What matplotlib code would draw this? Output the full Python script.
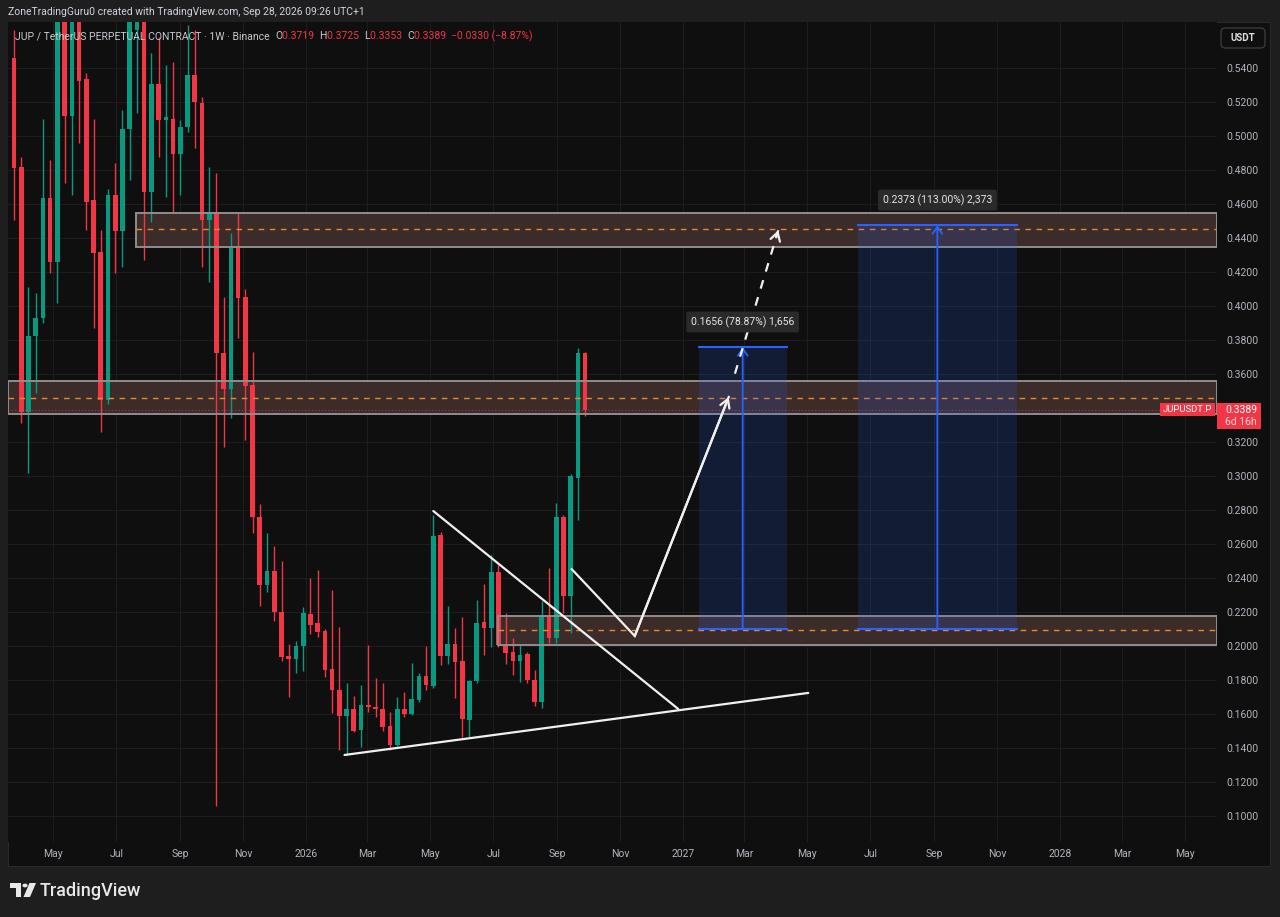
import numpy as np
import pandas as pd
import matplotlib
matplotlib.use('Agg')
import matplotlib.pyplot as plt
import matplotlib.dates as mdates
from matplotlib.patches import Rectangle, FancyBboxPatch, Polygon, Circle

# ---------------- data ----------------
start_week = '2025-03-24'
opens = [0.5455, 0.4818, 0.3376, 0.3822, 0.3926, 0.4632, 0.4255, 0.5850, 0.5118, 0.5800,
         0.5332, 0.4622, 0.4318, 0.3445, 0.4651, 0.4441, 0.5039, 0.5620, 0.5900, 0.4670,
         0.5302, 0.5092, 0.5101, 0.4892, 0.5053, 0.5357, 0.5194, 0.4504, 0.4547, 0.3724,
         0.3508, 0.4347, 0.4053, 0.3534, 0.2755, 0.2357, 0.2441, 0.2200, 0.1939, 0.1920,
         0.2000, 0.2185, 0.2132, 0.2088, 0.1860, 0.1740, 0.1587, 0.1630, 0.1504, 0.1652,
         0.1638, 0.1630, 0.1530, 0.1416, 0.1630, 0.1600, 0.1680, 0.1824, 0.1763, 0.2651,
         0.1939, 0.2010, 0.1910, 0.1560, 0.1792, 0.2140, 0.2102, 0.2432, 0.2004, 0.1965,
         0.1910, 0.1950, 0.1800, 0.1667, 0.2175, 0.2043, 0.2759, 0.2294, 0.2988, 0.3719]
highs = [0.5620, 0.4873, 0.4112, 0.4073, 0.5096, 0.4857, 0.5900, 0.5950, 0.5950, 0.5900,
         0.5367, 0.5096, 0.4445, 0.4685, 0.4838, 0.5151, 0.5900, 0.6000, 0.6000, 0.5485,
         0.5580, 0.5416, 0.5435, 0.5090, 0.5650, 0.5620, 0.5229, 0.4818, 0.4779, 0.4053,
         0.4426, 0.4543, 0.4100, 0.3729, 0.2834, 0.2661, 0.2588, 0.2498, 0.2008, 0.2029,
         0.2230, 0.2396, 0.2443, 0.2100, 0.2329, 0.2108, 0.1782, 0.1704, 0.1769, 0.2004,
         0.1812, 0.1779, 0.1612, 0.1700, 0.1729, 0.1900, 0.1840, 0.1996, 0.2769, 0.2670,
         0.2233, 0.2106, 0.2170, 0.1800, 0.2269, 0.2361, 0.2533, 0.2485, 0.2194, 0.2043,
         0.2004, 0.1960, 0.1857, 0.2265, 0.2455, 0.2838, 0.2770, 0.3010, 0.3749, 0.3725]
lows = [0.4504, 0.3308, 0.3014, 0.3485, 0.3900, 0.4190, 0.4014, 0.4720, 0.4650, 0.4955,
        0.4445, 0.3867, 0.3259, 0.3420, 0.4190, 0.4230, 0.4740, 0.5134, 0.4269, 0.4494,
        0.4876, 0.4641, 0.4553, 0.4651, 0.5020, 0.4926, 0.4229, 0.4141, 0.1057, 0.3170,
        0.3338, 0.3808, 0.3210, 0.2665, 0.2233, 0.2318, 0.2147, 0.1910, 0.1696, 0.1838,
        0.1853, 0.2069, 0.2053, 0.1818, 0.1602, 0.1387, 0.1357, 0.1490, 0.1406, 0.1612,
        0.1579, 0.1500, 0.1387, 0.1410, 0.1580, 0.1590, 0.1670, 0.1740, 0.1750, 0.1886,
        0.1892, 0.1690, 0.1465, 0.1463, 0.1780, 0.1945, 0.1994, 0.1990, 0.1892, 0.1828,
        0.1788, 0.1780, 0.1646, 0.1632, 0.2014, 0.2014, 0.2194, 0.2073, 0.2740, 0.3353]
closes = [0.4812, 0.3376, 0.3822, 0.3926, 0.4632, 0.4255, 0.5800, 0.5118, 0.5800, 0.5324,
          0.4612, 0.4312, 0.3445, 0.4651, 0.4441, 0.5039, 0.5750, 0.5900, 0.4670, 0.5302,
          0.5092, 0.5110, 0.4892, 0.5053, 0.5357, 0.5200, 0.4504, 0.4547, 0.3724, 0.3508,
          0.4347, 0.4047, 0.3528, 0.2755, 0.2357, 0.2441, 0.2200, 0.1932, 0.1920, 0.2000,
          0.2191, 0.2122, 0.2082, 0.1857, 0.1739, 0.1587, 0.1628, 0.1499, 0.1651, 0.1640,
          0.1626, 0.1524, 0.1416, 0.1630, 0.1598, 0.1685, 0.1824, 0.1770, 0.2645, 0.1939,
          0.2010, 0.1906, 0.1567, 0.1792, 0.2135, 0.2106, 0.2432, 0.2004, 0.1959, 0.1910,
          0.1945, 0.1798, 0.1667, 0.2175, 0.2043, 0.2759, 0.2294, 0.2998, 0.3719, 0.3389]

last_price = 0.3389
price_ticks = [0.10, 0.12, 0.14, 0.16, 0.18, 0.20, 0.22, 0.24, 0.26, 0.28, 0.30, 0.32,
               0.34, 0.36, 0.38, 0.40, 0.42, 0.44, 0.46, 0.48, 0.50, 0.52, 0.54]
time_ticks = ['2025-05-01', '2025-07-01', '2025-09-01', '2025-11-01', '2026-01-01',
              '2026-03-01', '2026-05-01', '2026-07-01', '2026-09-01', '2026-11-01',
              '2027-01-01', '2027-03-01', '2027-05-01', '2027-07-01', '2027-09-01',
              '2027-11-01', '2028-01-01', '2028-03-01', '2028-05-01']
time_labels = ['May', 'Jul', 'Sep', 'Nov', '2026', 'Mar', 'May', 'Jul', 'Sep', 'Nov',
               '2027', 'Mar', 'May', 'Jul', 'Sep', 'Nov', '2028', 'Mar', 'May']

# supply / demand zones (start None = chart edge)
zone_starts = ['2025-07-20', None, '2026-07-06']
zone_lows = [0.4347, 0.3363, 0.2004]
zone_highs = [0.4547, 0.3559, 0.2176]
zone_mids = [0.4449, 0.3459, 0.2090]

# trend lines
desc_dates = ['2026-05-04', '2026-12-27']
desc_prices = [0.2792, 0.1628]
supp_dates = ['2026-02-07', '2027-05-02']
supp_prices = [0.1357, 0.1722]
path_dates = ['2026-09-15', '2026-11-15', '2027-02-14']
path_prices = [0.2450, 0.2057, 0.3463]
dash_dates = ['2027-02-20', '2027-04-03']
dash_prices = [0.3600, 0.4444]

# price range measurements
box_starts = ['2027-01-16', '2027-06-19']
box_ends = ['2027-04-11', '2027-11-20']
box_lows = [0.2100, 0.2100]
box_highs = [0.3756, 0.4473]
box_labels = ['0.1656 (78.87%) 1,656', '0.2373 (113.00%) 2,373']

# ---------------- style ----------------
W, H = 1280, 917
UP = '#089981'
DN = '#f23645'
BG = '#0f0f0f'
OUT = '#1e1e1e'
GRID = '#1d1d1d'
TXT = '#b2b5be'
WHITE = '#f0f0f0'
plt.rcParams['font.family'] = ['Roboto', 'DejaVu Sans']

fig = plt.figure(figsize=(W / 100, H / 100), dpi=100)
fig.patch.set_facecolor(OUT)


def fx(px):
    return px / W


def fy(py):
    return 1 - py / H


# chart panel background
fig.add_artist(Rectangle((fx(8), fy(866)), fx(1270) - fx(8), fy(22) - fy(866),
                         transform=fig.transFigure, facecolor=BG, edgecolor='#2a2a2a',
                         lw=0.8, zorder=0))

ax = fig.add_axes([fx(8), fy(842), fx(1217) - fx(8), fy(22) - fy(842)])
ax.set_facecolor(BG)
for s in ax.spines.values():
    s.set_visible(False)

dates = pd.date_range(start_week, periods=len(closes), freq='7D')
xd = mdates.date2num(dates)
o = np.array(opens); c = np.array(closes); hi = np.array(highs); lo = np.array(lows)
cols = np.where(c >= o, UP, DN)

px_per_day = 7.23 / 7.0
x_left = xd[0] - 6 / px_per_day
x_right = xd[0] + (1217 - 14) / px_per_day
ax.set_xlim(x_left, x_right)
ax.set_ylim(0.0845, 0.5669)

tt = mdates.date2num(pd.to_datetime(time_ticks))
ax.set_xticks(tt)
ax.set_xticklabels(time_labels)
ax.set_yticks(price_ticks)
ax.set_yticklabels([f'{p:.4f}' for p in price_ticks])
ax.grid(True, color=GRID, lw=0.8, zorder=0)
ax.set_axisbelow(True)
ax.yaxis.tick_right()
ax.tick_params(axis='y', length=0, pad=7, labelsize=7.5, labelcolor=TXT)
ax.tick_params(axis='x', length=0, pad=5, labelsize=7.5, labelcolor=TXT)

# zones (fill under candles)
for zs, zl, zh in zip(zone_starts, zone_lows, zone_highs):
    x0 = x_left if zs is None else mdates.date2num(pd.Timestamp(zs))
    ax.add_patch(Rectangle((x0, zl), x_right - x0, zh - zl, facecolor='#3b2c29',
                           edgecolor='none', zorder=1))

# candles
ax.vlines(xd, lo, hi, colors=cols, lw=1.0, zorder=2)
body_h = np.maximum(np.abs(c - o), 0.0007)
ax.bar(xd, body_h, bottom=np.minimum(o, c), width=4.5, color=cols, edgecolor='none', zorder=2)

# zone borders and midlines
for zs, zl, zh, zm in zip(zone_starts, zone_lows, zone_highs, zone_mids):
    x0 = x_left if zs is None else mdates.date2num(pd.Timestamp(zs))
    ax.add_patch(Rectangle((x0, zl), x_right - x0, zh - zl, facecolor='none',
                           edgecolor='#8e8e8e', lw=1.4, zorder=3))
    ax.plot([x0, x_right], [zm, zm], color='#e58a2e', lw=1.0, dashes=(4, 4), zorder=3)

# last price line
ax.axhline(last_price, color=DN, lw=0.8, ls=(0, (1, 2)), alpha=0.7, zorder=3)

# price range boxes
for bs, be, bl, bh, lab in zip(box_starts, box_ends, box_lows, box_highs, box_labels):
    x0 = mdates.date2num(pd.Timestamp(bs)); x1 = mdates.date2num(pd.Timestamp(be))
    ax.add_patch(Rectangle((x0, bl), x1 - x0, bh - bl, facecolor='#2962ff', alpha=0.16,
                           edgecolor='none', zorder=4))
    ax.plot([x0, x1], [bh, bh], color='#2962ff', lw=1.5, zorder=4)
    ax.plot([x0, x1], [bl, bl], color='#2962ff', lw=1.5, zorder=4)
    xm = (x0 + x1) / 2
    ax.annotate('', xy=(xm, bh), xytext=(xm, bl),
                arrowprops=dict(arrowstyle='->,head_length=0.5,head_width=0.35',
                                color='#2962ff', lw=1.3, shrinkA=0, shrinkB=0), zorder=4)
    ax.annotate(lab, xy=(xm, bh), xytext=(0, 14), textcoords='offset points',
                ha='center', va='bottom', color='#e6e6e6', fontsize=7.5, zorder=7,
                bbox=dict(boxstyle='round,pad=0.45,rounding_size=0.2', fc='#2a2a2a',
                          ec='none'))

# trend lines and projected path
ax.plot(mdates.date2num(pd.to_datetime(desc_dates)), desc_prices, color=WHITE, lw=1.6,
        zorder=5, solid_capstyle='round')
ax.plot(mdates.date2num(pd.to_datetime(supp_dates)), supp_prices, color=WHITE, lw=1.6,
        zorder=5, solid_capstyle='round')
pdn = mdates.date2num(pd.to_datetime(path_dates))
ax.plot(pdn, path_prices, color=WHITE, lw=1.6, zorder=5, solid_joinstyle='miter')
ax.annotate('', xy=(pdn[-1], path_prices[-1]), xytext=(pdn[-2], path_prices[-2]),
            arrowprops=dict(arrowstyle='->,head_length=0.6,head_width=0.35', color=WHITE,
                            lw=1.6, shrinkA=0, shrinkB=0), zorder=5)
ddn = mdates.date2num(pd.to_datetime(dash_dates))
ax.plot(ddn, dash_prices, color=WHITE, lw=1.6, dashes=(4, 4), zorder=5)
ax.annotate('', xy=(ddn[-1], dash_prices[-1]),
            xytext=(ddn[-1] - (ddn[-1] - ddn[0]) * 0.05,
                    dash_prices[-1] - (dash_prices[-1] - dash_prices[0]) * 0.05),
            arrowprops=dict(arrowstyle='->,head_length=0.6,head_width=0.35', color=WHITE,
                            lw=1.6, shrinkA=0, shrinkB=0), zorder=5)

# ---------------- header texts ----------------
fig.text(fx(8), fy(12), 'ZoneTradingGuru0 created with TradingView.com, Sep 28, 2026 09:26 UTC+1',
         color='#d1d4dc', fontsize=7.5, va='center', ha='left')

pieces = [('JUP / TetherUS PERPETUAL CONTRACT · 1W · Binance  ', '#c8cad0'),
          ('O', '#c8cad0'), ('0.3719  ', DN), ('H', '#c8cad0'), ('0.3725  ', DN),
          ('L', '#c8cad0'), ('0.3353  ', DN), ('C', '#c8cad0'), ('0.3389  ', DN),
          ('−0.0330 (−8.87%)', DN)]
prev = fig.text(fx(15), fy(36), pieces[0][0], color=pieces[0][1], fontsize=7.5,
                va='center', ha='left', zorder=8)
for s, col in pieces[1:]:
    prev = ax.annotate(s, xy=(1, 0.5), xycoords=prev, va='center', ha='left', color=col,
                       fontsize=7.5, zorder=8, annotation_clip=False)

# USDT box
fig.add_artist(FancyBboxPatch((fx(1221), fy(48)), fx(1265) - fx(1221), fy(28) - fy(48),
                              boxstyle='round,pad=0,rounding_size=0.004',
                              transform=fig.transFigure, fc=BG, ec='#3a3a3a', lw=1))
fig.text(fx(1243), fy(38), 'USDT', color='#e0e0e0', fontsize=7, ha='center', va='center',
         fontweight='bold')

# last price labels on the price axis (placed via the axes' data transform)
yfig = fig.transFigure.inverted().transform(ax.transData.transform((x_left, last_price)))[1]
fig.add_artist(Rectangle((fx(1217), yfig - 19.5 / H), fx(1261) - fx(1217), 26 / H,
                         transform=fig.transFigure, facecolor=DN, edgecolor='none', zorder=9))
fig.add_artist(Rectangle((fx(1160), yfig - 6.5 / H), fx(1215) - fx(1160), 13 / H,
                         transform=fig.transFigure, facecolor=DN, edgecolor='none', zorder=9))
fig.text(fx(1187.5), yfig, 'JUPUSDT.P', color='white', fontsize=6.8,
         ha='center', va='center', zorder=10)
fig.text(fx(1225), yfig, f'{last_price:.4f}', color='white', fontsize=7.5,
         ha='left', va='center', zorder=10)
fig.text(fx(1225), yfig - 12.5 / H, '6d 16h', color='#ffd6d9', fontsize=7.5,
         ha='left', va='center', zorder=10)

# TradingView logo
lx, ly = 10, 883
fig.add_artist(Polygon([(fx(lx), fy(ly)), (fx(lx + 11), fy(ly)), (fx(lx + 11), fy(ly + 14)),
                        (fx(lx + 6), fy(ly + 14)), (fx(lx + 6), fy(ly + 5)), (fx(lx), fy(ly + 5))],
                       closed=True, transform=fig.transFigure, fc='#e8e8e8', ec='none'))
fig.add_artist(Circle((fx(lx + 15), fy(ly + 2.5)), 2.6 / W, transform=fig.transFigure,
                      fc='#e8e8e8', ec='none'))
fig.add_artist(Polygon([(fx(lx + 19.5), fy(ly)), (fx(lx + 26), fy(ly)), (fx(lx + 20), fy(ly + 14)),
                        (fx(lx + 13.5), fy(ly + 14))],
                       closed=True, transform=fig.transFigure, fc='#e8e8e8', ec='none'))
fig.text(fx(40), fy(891), 'TradingView', color='#e8e8e8', fontsize=13, ha='left',
         va='center', fontweight='medium')

fig.savefig('out.png', dpi=100, facecolor=fig.get_facecolor())
